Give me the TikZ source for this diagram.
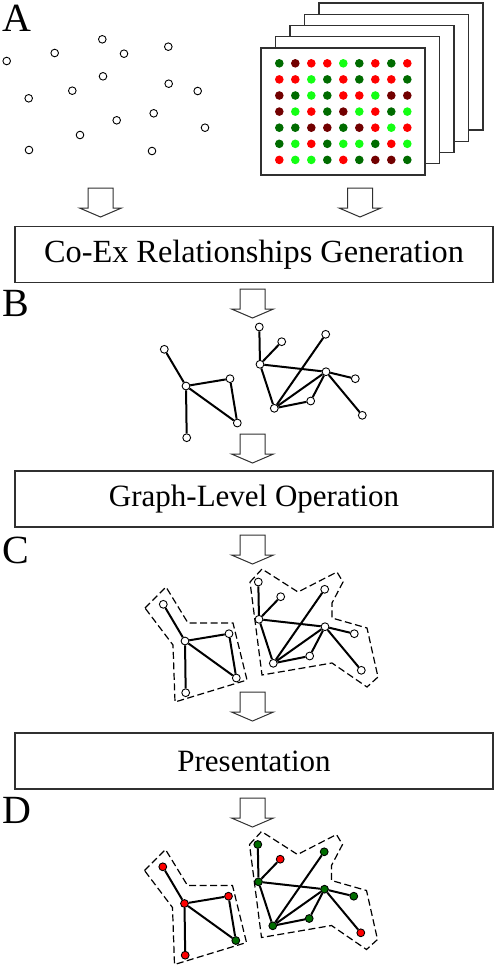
\documentclass[tikz,border=0pt]{standalone}
\usepackage{fontspec}
\setmainfont{Liberation Serif}
\usetikzlibrary{calc}
\definecolor{spotred}{HTML}{FF0000}
\definecolor{spotdark}{HTML}{720000}
\definecolor{spotgreen}{HTML}{006C00}
\definecolor{spotlime}{HTML}{14FF14}
\definecolor{frame grey}{HTML}{303030}

\tikzset{
  spot/.style = {circle, draw, line width = 0.9pt, fill = white, inner sep = 0pt, minimum size = 7.6pt},
  gnode/.style = {circle, draw, line width = 0.9pt, fill = white, inner sep = 0pt, minimum size = 7.8pt},
  plain node/.style = {fill = white},
  tinted node/.style = {fill = #1},
  edge/.style = {line width = 2pt},
  hull/.style = {dash pattern = on 7pt off 3.5pt, line width = 1.2pt},
  stage/.style = {draw = frame grey, line width = 1.1pt, minimum width = 478pt, minimum height = 56pt,
    inner sep = 0pt, font = \fontsize{31}{31}\selectfont},
  panel/.style = {anchor = base west, inner sep = 0pt, font = \fontsize{40}{40}\selectfont},
  block arrow/.style = {draw = frame grey, line width = 1pt, fill = white},
  slide/.style = {draw = frame grey, line width = 1.2pt, fill = white}
}

% hollow arrow pointing down, #1 = centre x, #2 = top y
\newcommand{\blockdown}[2]{%
  \draw[block arrow] (#1-12.5, #2) -- (#1+12.5, #2) -- (#1+12.5, #2+20) -- (#1+21, #2+20) %
    -- (#1, #2+29) -- (#1-21, #2+20) -- (#1-12.5, #2+20) -- cycle;}

% the co-expression graph, #1 = name prefix, #2 = shift, #3 = fill style
\newcommand{\cograph}[3]{%
  \begin{scope}[shift = {#2}]
    \foreach \n/\x/\y/\c in {a1/164.3/349.3/spotred, a2/186/386/spotred, a3/230/378.7/spotred,
        a4/237.3/423/spotgreen, a5/186.7/437.7/spotred, b1/259.3/327/spotgreen,
        b2/281.7/341.7/spotred, b3/260/364.3/spotgreen, b4/325.7/334.3/spotgreen,
        b5/326/371.7/spotgreen, b6/355.3/378.7/spotgreen, b7/310.7/401/spotgreen,
        b8/274.3/408.3/spotgreen, b9/362.3/415.3/spotred}
      {\node[gnode, #3 = \c] (#1\n) at (\x, \y) {};}
    \foreach \u/\v in {a1/a2, a2/a3, a3/a4, a2/a4, a2/a5, b1/b3, b2/b3, b3/b5, b3/b8,
        b4/b8, b5/b8, b5/b7, b7/b8, b5/b6, b5/b9}
      {\draw[edge] (#1\u) -- (#1\v);}
  \end{scope}}

\begin{document}
\begin{tikzpicture}[x = 1pt, y = -1pt]
  \useasboundingbox (0, 0) rectangle (498, 970);

  % panel A: genes and arrays
  \node[panel] (labA) at (2, 31) {A};
  \foreach \x/\y [count = \i] in {6.7/61, 54.7/53, 102.3/39.3, 124/53.7, 168.3/46.7, 103/76.3,
      168.7/83.7, 197.7/91, 72.3/90.7, 28.7/98.3, 153.7/113.3, 116.7/120.3, 205/127.7,
      80/135, 29/150, 152/151}
    {\node[spot] (s\i) at (\x, \y) {};}

  \foreach \k in {4, 3, ..., 0}
    {\draw[slide] (261 + \k*14.5, 48 - \k*11.25) rectangle +(164, 127);}
  \foreach \row [count = \j from 0] in {
      {spotgreen, spotdark, spotred, spotred, spotlime, spotgreen, spotred, spotgreen, spotred},
      {spotred, spotred, spotlime, spotgreen, spotred, spotgreen, spotred, spotred, spotgreen},
      {spotdark, spotgreen, spotlime, spotgreen, spotred, spotred, spotlime, spotdark, spotdark},
      {spotdark, spotlime, spotred, spotgreen, spotdark, spotlime, spotred, spotgreen, spotlime},
      {spotgreen, spotgreen, spotdark, spotdark, spotgreen, spotdark, spotred, spotlime, spotred},
      {spotgreen, spotlime, spotred, spotgreen, spotlime, spotlime, spotgreen, spotred, spotlime},
      {spotred, spotlime, spotlime, spotgreen, spotred, spotgreen, spotdark, spotdark, spotgreen}}
    {\foreach \c [count = \i from 0] in \row
      {\fill[\c] (279.3 + \i*16, 63.3 + \j*16.1) circle (4.3);}}

  \blockdown{100.5}{188}
  \blockdown{360}{188}
  \node[stage, font = \fontsize{32.3}{32.3}\selectfont] (gen) at (254, 254.5)
    {Co-Ex Relationships Generation};

  % panel B
  \blockdown{252.5}{289}
  \node[panel] (labB) at (2.5, 316.5) {B};
  \cograph{g}{(0, 0)}{plain node}

  \blockdown{252.5}{434}
  \node[stage] (op) at (254, 499) {Graph-Level Operation};

  % panels C and D share the hulls
  \blockdown{252.5}{535}
  \node[panel] (labC) at (2.5, 563.5) {C};
  \foreach \dx/\dy in {-1/255, -1.5/517.5}
    {\begin{scope}[shift = {(\dx, \dy)}]
      \draw[hull] (146, 353) -- (167, 332) -- (189, 368) -- (234, 368) -- (248, 425) %
        -- (176, 447) -- (174, 390) -- cycle;
      \draw[hull] (251, 327) -- (263, 314) -- (299, 337) -- (338, 317) -- (344, 327) %
        -- (333, 348) -- (333, 363) -- (368, 373) -- (379, 422) -- (368, 432) %
        -- (333, 408) -- (263, 420) -- cycle;
    \end{scope}}
  \cograph{h}{(-1, 255)}{plain node}

  \blockdown{252.5}{692}
  \node[stage] (pres) at (254, 761) {Presentation};

  \blockdown{252.5}{798}
  \node[panel] (labD) at (2.5, 823.5) {D};
  \cograph{k}{(-1.5, 517.5)}{tinted node}
\end{tikzpicture}
\end{document}
